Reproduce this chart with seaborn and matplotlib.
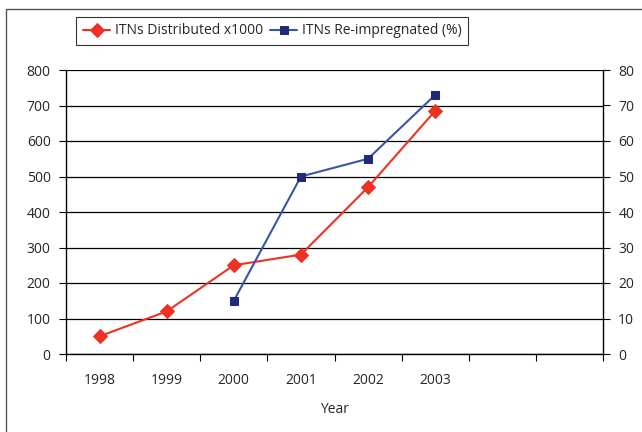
import matplotlib
matplotlib.use("Agg")
import matplotlib.pyplot as plt
import seaborn as sns
import numpy as np
import pandas as pd
from matplotlib.patches import Rectangle

years = ["1998", "1999", "2000", "2001", "2002", "2003"]
distributed = [50, 120, 250, 280, 470, 685]
reimp_years = ["2000", "2001", "2002", "2003"]
reimpregnated = [15, 50, 55, 73]

sns.set_theme(style="white")
plt.rcParams['font.family'] = ['Open Sans', 'DejaVu Sans']

fig = plt.figure(figsize=(6.42, 4.32), dpi=100)
ax = fig.add_axes([66/642, 1-354/432, (603-66)/642, (354-70)/432])

pos = {y: i for i, y in enumerate(years)}
df1 = pd.DataFrame({"x": [pos[y] for y in years], "v": distributed})
df2 = pd.DataFrame({"x": [pos[y] for y in reimp_years], "v": reimpregnated})

sns.lineplot(data=df1, x="x", y="v", ax=ax, color="#ee3124", marker="D",
             markersize=7.5, markeredgecolor="#ee3124", linewidth=1.5,
             label="ITNs Distributed x1000", legend=False)
ax.set_ylim(0, 800)
ax.set_yticks(np.arange(0, 801, 100))
ax.set_xlim(-0.5, 7.5)
ax.set_xticks(range(len(years)))
ax.set_xticklabels(years)
ax.set_xticks(np.arange(-0.5, 7.6, 1), minor=True)
ax.tick_params(axis="x", which="major", length=0, pad=14, labelsize=10)
ax.tick_params(axis="x", which="minor", length=5, width=0.8, color="black", bottom=True)
ax.tick_params(axis="y", length=5, width=0.8, color="black", left=True, labelsize=10, pad=6)
ax.grid(axis="y", color="black", linewidth=0.9)
ax.set_axisbelow(True)
ax.set_xlabel("Year", fontsize=10, labelpad=10)
ax.set_ylabel("")
for s in ["top", "right"]:
    ax.spines[s].set_visible(False)
for s in ["left", "bottom"]:
    ax.spines[s].set_color("black")
    ax.spines[s].set_linewidth(1)

ax2 = ax.twinx()
sns.lineplot(data=df2, x="x", y="v", ax=ax2, color="#3a55a8", marker="s",
             markersize=6, markerfacecolor="#202a78", markeredgecolor="#202a78",
             linewidth=1.5, label="ITNs Re-impregnated (%)", legend=False)
ax2.set_ylim(0, 80)
ax2.set_yticks(np.arange(0, 81, 10))
ax2.set_ylabel("")
ax2.tick_params(axis="y", length=5, width=0.8, color="black", right=True, labelsize=10, pad=6)
for s in ["top", "left", "bottom"]:
    ax2.spines[s].set_visible(False)
ax2.spines["right"].set_color("black")
ax2.spines["right"].set_linewidth(1)

h1, l1 = ax.get_legend_handles_labels()
h2, l2 = ax2.get_legend_handles_labels()
leg = fig.legend(h1 + h2, l1 + l2, loc="center", bbox_to_anchor=(272/642, 1-31/432),
                 ncol=2, frameon=True, fancybox=False, fontsize=10,
                 handlelength=2.0, handletextpad=0.3, columnspacing=0.5,
                 borderpad=0.45, edgecolor="black")
leg.get_frame().set_linewidth(0.8)

fig.patches.append(Rectangle((6/642, -0.1), 1.2, 1 - 9/432 + 0.1, transform=fig.transFigure,
                             fill=False, edgecolor="#555555", linewidth=1))

fig.savefig("out.png", dpi=100)
